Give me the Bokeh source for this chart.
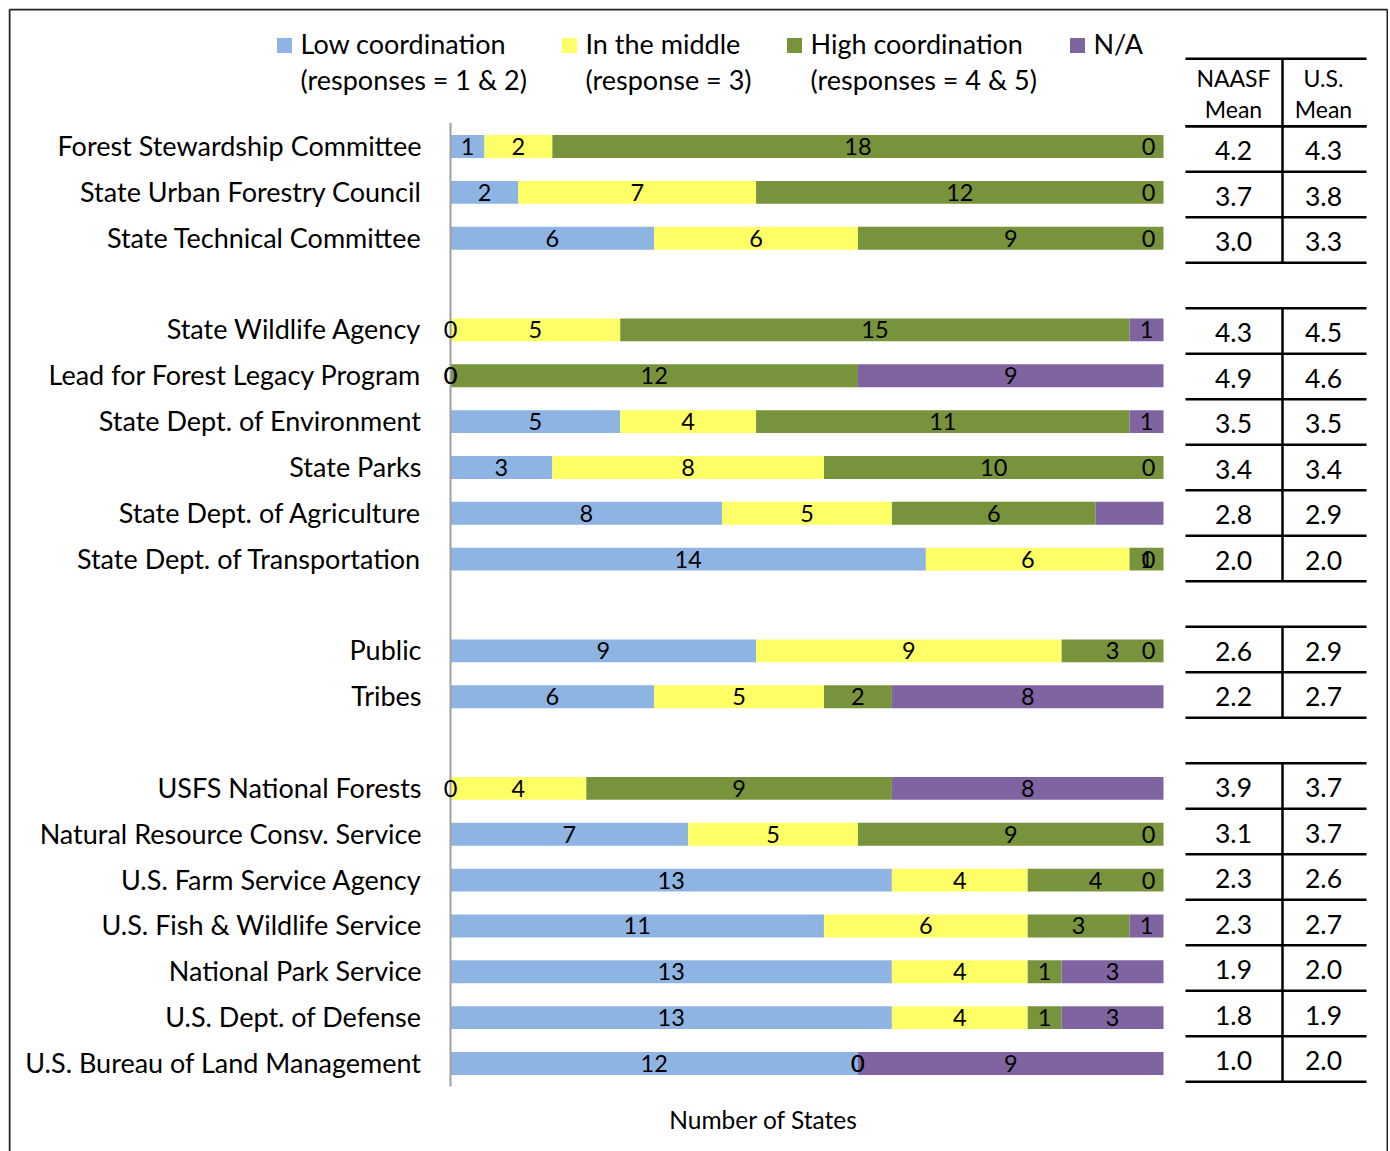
import numpy as np
import pandas as pd
from bokeh.plotting import figure
from bokeh.models import ColumnDataSource, Range1d
from bokeh.core.properties import value
from bokeh.embed import file_html
from bokeh.resources import INLINE

# ---------------- data ----------------
groups = [
    ["Forest Stewardship Committee", "State Urban Forestry Council", "State Technical Committee"],
    ["State Wildlife Agency", "Lead for Forest Legacy Program", "State Dept. of Environment",
     "State Parks", "State Dept. of Agriculture", "State Dept. of Transportation"],
    ["Public", "Tribes"],
    ["USFS National Forests", "Natural Resource Consv. Service", "U.S. Farm Service Agency",
     "U.S. Fish & Wildlife Service", "National Park Service", "U.S. Dept. of Defense",
     "U.S. Bureau of Land Management"],
]
low = [1, 2, 6, 0, 0, 5, 3, 8, 14, 9, 6, 0, 7, 13, 11, 13, 13, 12]
middle = [2, 7, 6, 5, 0, 4, 8, 5, 6, 9, 5, 4, 5, 4, 6, 4, 4, 0]
high = [18, 12, 9, 15, 12, 11, 10, 6, 1, 3, 2, 9, 9, 4, 3, 1, 1, 0]
na = [0, 0, 0, 1, 9, 1, 0, 2, 0, 0, 8, 8, 0, 0, 1, 3, 3, 9]
naasf_mean = [4.2, 3.7, 3.0, 4.3, 4.9, 3.5, 3.4, 2.8, 2.0, 2.6, 2.2, 3.9, 3.1, 2.3, 2.3, 1.9, 1.8, 1.0]
us_mean = [4.3, 3.8, 3.3, 4.5, 4.6, 3.5, 3.4, 2.9, 2.0, 2.9, 2.7, 3.7, 3.7, 2.6, 2.7, 2.0, 1.9, 2.0]
series_keys = ["low", "middle", "high", "na"]
series_titles = ["Low coordination", "In the middle", "High coordination", "N/A"]
series_subtitles = ["(responses = 1 & 2)", "(response = 3)", "(responses = 4 & 5)", ""]
series_colors = ["#8EB4E3", "#FFFF66", "#77933C", "#8064A2"]
hidden_labels = [("State Dept. of Agriculture", "na")]
table_headers = [["NAASF", "Mean"], ["U.S.", "Mean"]]
x_title = "Number of States"

# ---------------- layout helpers ----------------
FONT = "Lato"
W, H = 1388, 1151     # canvas size (frame starts 8px in)
PPU = 713 / 21.0      # pixels per state
SLOT = 45.85          # pixels per row slot (bars)
X0, Y0 = 450, 146     # page pixel of x=0 and of the first row centre
TABLE_TOP = 125.7     # page pixel of the first table body line
TABLE_ROW = 45.5      # table row height in pixels


def px_x(px):
    return (px - X0) / PPU


def px_y(py):
    return (py - Y0) / SLOT


def table_line(k):
    return px_y(TABLE_TOP + TABLE_ROW * k)


categories = []
slots = []
group_slots = []
s = 0
for g in groups:
    gs = []
    for c in g:
        categories.append(c)
        slots.append(s)
        gs.append(s)
        s += 1
    group_slots.append(gs)
    s += 1  # gap between groups

df = pd.DataFrame({"cat": categories, "slot": slots, "low": low, "middle": middle,
                   "high": high, "na": na})
source = ColumnDataSource(df)

p = figure(width=W, height=H, output_backend="svg", toolbar_location=None,
           x_axis_type=None, y_axis_type=None,
           x_range=Range1d(px_x(8), px_x(W)),
           y_range=Range1d(px_y(H), px_y(8)),
           min_border_left=8, min_border_top=8, min_border_right=0, min_border_bottom=0)
p.outline_line_color = None
p.grid.visible = False
p.background_fill_color = "white"

# chart border (left, top, right)
bx0, bx1, by0, by1 = px_x(9), px_x(W - 1), px_y(9), px_y(H)
p.segment(x0=[bx0, bx0, bx1], y0=[by1, by0, by0], x1=[bx0, bx1, bx1], y1=[by0, by0, by1],
          line_color="#222222", line_width=2)

p.hbar_stack(series_keys, y="slot", height=0.5, color=series_colors, source=source,
             line_color=None)

# axis line
first_slot, last_slot = min(slots), max(slots)
p.segment(x0=[0], y0=[first_slot - 0.52], x1=[0], y1=[last_slot + 0.5],
          line_color="#A0A0A0", line_width=2)

# category labels
p.text(x=[px_x(421)] * len(categories), y=[v - 1 / SLOT for v in slots], text=categories,
       text_font=value(FONT), text_font_size="27px", text_align="right",
       text_baseline="middle", text_color="black")

# value labels
cum = np.zeros(len(categories))
lx, ly, lt = [], [], []
xmax_label = px_x(1148)
for key in series_keys:
    vals = np.array(df[key], dtype=float)
    centers = cum + vals / 2.0
    for i, c in enumerate(categories):
        if (c, key) in hidden_labels:
            continue
        lx.append(min(centers[i], xmax_label))
        ly.append(slots[i])
        lt.append(str(int(vals[i])))
    cum = cum + vals
p.text(x=lx, y=ly, text=lt, text_font=value(FONT), text_font_size="23.5px",
       text_align="center", text_baseline="middle", text_color="black")

# legend
sq_px = [284, 569, 794, 1077]
p.scatter(x=[px_x(v) for v in sq_px], y=[px_y(45)] * 4, marker="square", size=15,
          color=series_colors, line_color=None)
p.text(x=[px_x(v + 16) for v in sq_px], y=[px_y(43)] * 4, text=series_titles,
       text_font=value(FONT), text_font_size="27px", text_baseline="middle",
       text_color="black")
p.text(x=[px_x(v + 16) for v in sq_px], y=[px_y(79)] * 4, text=series_subtitles,
       text_font=value(FONT), text_font_size="27px", text_baseline="middle",
       text_color="black")

# mean table
tl, tm, tr = px_x(1185), px_x(1282), px_x(1366)
col_centers = [px_x(1233), px_x(1323)]
hy0, hy1 = px_y(58.3), table_line(0)
LW = 2.5
# header
p.segment(x0=[tl, tl], y0=[hy0, hy1], x1=[tr, tr], y1=[hy0, hy1], line_color="black", line_width=LW)
p.segment(x0=[tm], y0=[hy0], x1=[tm], y1=[hy1], line_color="black", line_width=LW)
for cx, hdr in zip(col_centers, table_headers):
    p.text(x=[cx, cx], y=[px_y(77), px_y(108.5)], text=hdr, text_font=value(FONT),
           text_font_size="23px", text_align="center", text_baseline="middle", text_color="black")
# body lines
for gs in group_slots:
    ys = [table_line(gs[0])] + [table_line(v + 1) for v in gs]
    p.segment(x0=[tl] * len(ys), y0=ys, x1=[tr] * len(ys), y1=ys, line_color="black", line_width=LW)
    p.segment(x0=[tm], y0=[ys[0]], x1=[tm], y1=[ys[-1]], line_color="black", line_width=LW)
cell_y = [(table_line(v) + table_line(v + 1)) / 2 + 2 / SLOT for v in slots]
p.text(x=[col_centers[0]] * len(slots), y=cell_y, text=[f"{v:.1f}" for v in naasf_mean],
       text_font=value(FONT), text_font_size="26.5px", text_align="center",
       text_baseline="middle", text_color="black")
p.text(x=[col_centers[1]] * len(slots), y=cell_y, text=[f"{v:.1f}" for v in us_mean],
       text_font=value(FONT), text_font_size="26.5px", text_align="center",
       text_baseline="middle", text_color="black")

# x title
p.text(x=[px_x(763)], y=[px_y(1119)], text=[x_title], text_font=value(FONT),
       text_font_size="24.5px", text_align="center", text_baseline="middle", text_color="black")

open("out.html", "w").write(file_html(p, INLINE))
